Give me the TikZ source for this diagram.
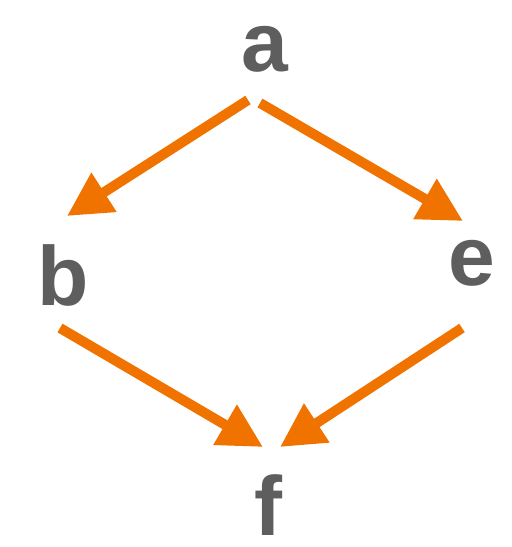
\documentclass[tikz,border=0pt]{standalone}
\usepackage{fontspec}
\setmainfont{Liberation Sans}
\usetikzlibrary{arrows.meta}
\definecolor{lettergray}{RGB}{94,94,94}
\definecolor{arroworange}{RGB}{240,115,0}
\begin{document}
\begin{tikzpicture}[x=0.5pt,y=-0.5pt,
  letter/.style={anchor=base,inner sep=0pt,text=lettergray,font=\fontsize{42}{42}\selectfont\bfseries},
  conn/.style={draw=arroworange,line width=5pt,-{Triangle[length=22pt,width=22pt]}}]
\useasboundingbox (0,0) rectangle (512,547);
\node[letter] (a) at (265,71) {a};
\node[letter] (b) at (63,305) {b};
\node[letter] (e) at (472,285) {e};
\node[letter] (f) at (268,535) {f};
\draw[conn] ([shift={(-17,29)}]a.base) -- ([shift={(4,-89)}]b.base);
\draw[conn] ([shift={(-5,32)}]a.base) -- ([shift={(-9,-64)}]e.base);
\draw[conn] ([shift={(-3,23)}]b.base) -- ([shift={(-5,-88)}]f.base);
\draw[conn] ([shift={(-10,43)}]e.base) -- ([shift={(12,-88)}]f.base);
\end{tikzpicture}
\end{document}
